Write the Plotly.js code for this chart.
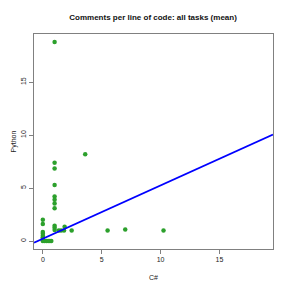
<!DOCTYPE html>
<html><head><meta charset="utf-8">
<script src="https://cdn.plot.ly/plotly-3.0.1.min.js"></script>
<style>html,body{margin:0;padding:0;background:#fff}#c{width:291px;height:291px}</style>
</head><body><div id="c"></div>
<script>
const csharp = [0, 0, 0, 0, 0, 0, 0, 0, 0, 0.15, 0.3, 0.45, 0.6, 0.72,
  1.0, 1.0, 1.0, 1.0, 1.0, 1.0, 1.0, 1.0, 1.0, 1.0, 1.0,
  3.6, 1.35, 1.55, 1.8, 1.85, 2.45, 5.5, 7.0, 10.25];
const python = [2.0, 1.6, 0.85, 0.7, 0.5, 0.35, 0.2, 0.1, 0, 0, 0, 0, 0, 0,
  18.8, 7.4, 6.85, 5.3, 4.2, 3.9, 3.55, 3.1, 1.45, 1.25, 1.05,
  8.2, 1.0, 1.0, 1.0, 1.35, 1.0, 1.0, 1.1, 1.0];
const fitIntercept = 0.23;
const fitSlope = 0.503;
const axisRange = [-0.75, 19.55];
const tickVals = [0, 5, 10, 15];

const lineX = axisRange;
const lineY = lineX.map(x => fitIntercept + fitSlope * x);

const data = [
  {x: csharp, y: python, type: 'scatter', mode: 'markers',
   marker: {color: '#2ca02c', size: 4.5}, hoverinfo: 'none'},
  {x: lineX, y: lineY, type: 'scatter', mode: 'lines',
   line: {color: '#0000ff', width: 1.8}, hoverinfo: 'none'}
];
const ax = {
  range: axisRange, showgrid: false, zeroline: false,
  showline: true, mirror: true, linecolor: '#808080', linewidth: 1,
  ticks: 'outside', ticklen: 4, tickcolor: '#808080',
  tickvals: tickVals, ticktext: tickVals.map(String),
  tickfont: {family: 'Liberation Sans, Arial, sans-serif', size: 7, color: '#222'}
};
const layout = {
  width: 291, height: 291,
  margin: {l: 34, r: 18, t: 34, b: 42},
  paper_bgcolor: '#fff', plot_bgcolor: '#fff',
  showlegend: false,
  title: {text: '<b>Comments per line of code: all tasks (mean)</b>',
    font: {family: 'Liberation Sans, Arial, sans-serif', size: 8, color: '#111'},
    x: 0.526, xanchor: 'center', y: 0.942, yanchor: 'middle'},
  xaxis: Object.assign({}, ax, {
    title: {text: 'C#', font: {family: 'Liberation Sans, Arial, sans-serif', size: 7, color: '#222'}, standoff: 12}
  }),
  yaxis: Object.assign({}, ax, {
    tickangle: -90,
    title: {text: 'Python', font: {family: 'Liberation Sans, Arial, sans-serif', size: 7, color: '#222'}, standoff: 2}
  })
};
Plotly.newPlot('c', data, layout, {staticPlot: true, displayModeBar: false});
</script></body></html>
